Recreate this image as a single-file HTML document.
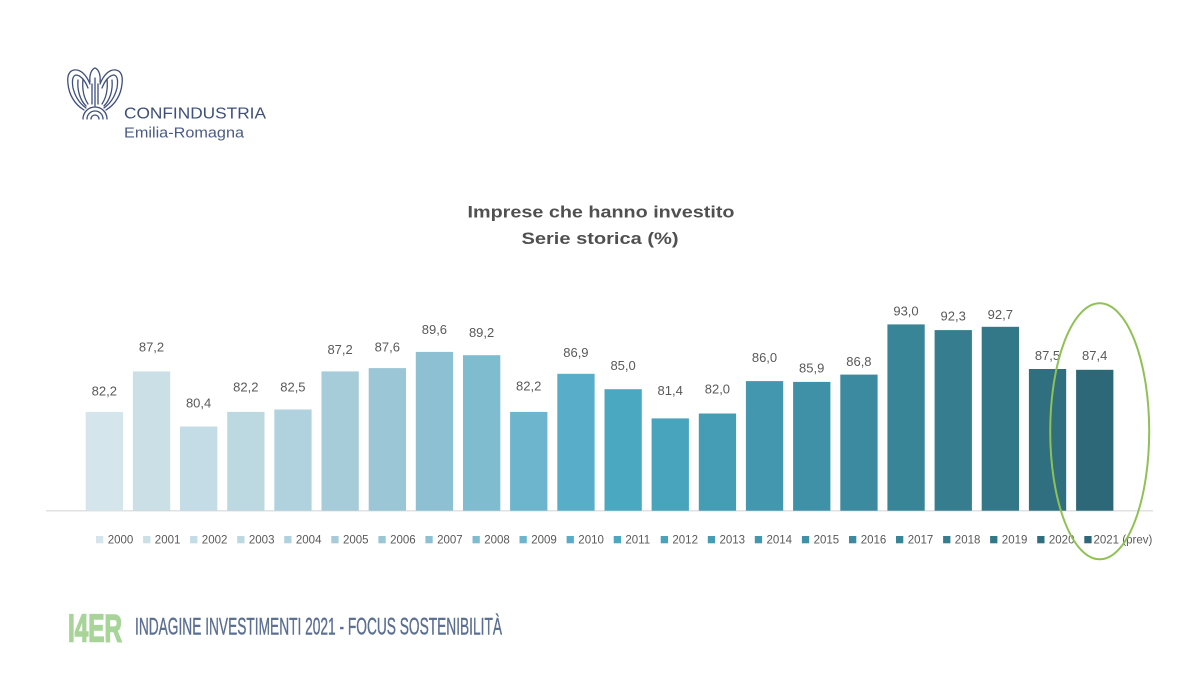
<!DOCTYPE html>
<html><head><meta charset="utf-8"><style>
html,body{margin:0;padding:0;background:#fff;}
svg{display:block;}
</style></head><body>
<svg width="1200" height="675" viewBox="0 0 1200 675" xmlns="http://www.w3.org/2000/svg" font-family="'Liberation Sans', sans-serif">
<rect width="1200" height="675" fill="#fff"/>
<!-- Logo eagle -->
<g fill="none" stroke="#3e4f7c" stroke-width="1.3" stroke-linecap="round">
  <path d="M90,82 C89,74 92,69 95,68 C98,69 101,74 100,82"/>
  <path d="M92,84 L92,104 M98,84 L98,104 M95,78 L95,106"/>
  <path d="M90,84 C86,74 80,69 74,70 C69,71 67,76 68,84 C69,94 74,104 84,110"/>
  <path d="M88,88 C85,80 80,75 76,75 C72,76 72,82 73,88 C75,96 79,103 86,108"/>
  <path d="M78,80 C77,90 80,100 86,106"/>
  <path d="M83,79 C82,89 84,98 88,104"/>
  <path d="M100,84 C104,74 110,69 116,70 C121,71 123,76 122,84 C121,94 116,104 106,110"/>
  <path d="M102,88 C105,80 110,75 114,75 C118,76 118,82 117,88 C115,96 111,103 104,108"/>
  <path d="M112,80 C113,90 110,100 104,106"/>
  <path d="M107,79 C108,89 106,98 102,104"/>
  <path d="M83,119 A12,12 0 0 1 107,119"/>
  <path d="M87,119 A8,8 0 0 1 103,119"/>
  <path d="M91,119 A4,4 0 0 1 99,119"/>
</g>
<text x="124" y="118.5" font-size="16" fill="#3e4f7c" textLength="142" lengthAdjust="spacingAndGlyphs">CONFINDUSTRIA</text>
<text x="124" y="137.5" font-size="15" fill="#4a5b84" textLength="120" lengthAdjust="spacingAndGlyphs">Emilia-Romagna</text>

<!-- Title -->
<text x="601" y="217.3" font-size="16.5" font-weight="bold" fill="#505050" text-anchor="middle" textLength="267" lengthAdjust="spacingAndGlyphs">Imprese che hanno investito</text>
<text x="600" y="244" font-size="16.5" font-weight="bold" fill="#505050" text-anchor="middle" textLength="157" lengthAdjust="spacingAndGlyphs">Serie storica (%)</text>

<!-- Axis -->
<line x1="46" y1="510.8" x2="1153" y2="510.8" stroke="#d9d9d9" stroke-width="1.2"/>

<!-- Bars -->
<g>
<rect x="85.7" y="411.9" width="37.3" height="98.8" fill="#d5e5ec"/>
<rect x="132.9" y="371.4" width="37.3" height="139.3" fill="#cbdfe7"/>
<rect x="180.0" y="426.5" width="37.3" height="84.2" fill="#c4dce5"/>
<rect x="227.2" y="411.9" width="37.3" height="98.8" fill="#bcd8e1"/>
<rect x="274.3" y="409.5" width="37.3" height="101.2" fill="#b0d2de"/>
<rect x="321.5" y="371.4" width="37.3" height="139.3" fill="#a6cbd9"/>
<rect x="368.7" y="368.1" width="37.3" height="142.6" fill="#9bc6d6"/>
<rect x="415.8" y="351.9" width="37.3" height="158.8" fill="#8dc0d2"/>
<rect x="463.0" y="355.2" width="37.3" height="155.5" fill="#7fbccf"/>
<rect x="510.1" y="411.9" width="37.3" height="98.8" fill="#6db5cc"/>
<rect x="557.3" y="373.8" width="37.3" height="136.9" fill="#58aec8"/>
<rect x="604.5" y="389.2" width="37.3" height="121.5" fill="#4aa8c0"/>
<rect x="651.6" y="418.4" width="37.3" height="92.3" fill="#48a3bc"/>
<rect x="698.8" y="413.5" width="37.3" height="97.2" fill="#459db5"/>
<rect x="745.9" y="381.1" width="37.3" height="129.6" fill="#4397ae"/>
<rect x="793.1" y="381.9" width="37.3" height="128.8" fill="#3f91a8"/>
<rect x="840.3" y="374.6" width="37.3" height="136.1" fill="#3c8aa0"/>
<rect x="887.4" y="324.4" width="37.3" height="186.3" fill="#398598"/>
<rect x="934.6" y="330.1" width="37.3" height="180.6" fill="#357d8f"/>
<rect x="981.7" y="326.8" width="37.3" height="183.9" fill="#337889"/>
<rect x="1028.9" y="369.0" width="37.3" height="141.7" fill="#2f6f80"/>
<rect x="1076.1" y="369.8" width="37.3" height="140.9" fill="#2c6878"/>
</g>

<!-- Value labels -->
<g font-size="13" fill="#595959" text-anchor="middle">
<text x="104.3" y="395.5">82,2</text>
<text x="151.5" y="351.5">87,2</text>
<text x="198.6" y="407.5">80,4</text>
<text x="245.8" y="391.5">82,2</text>
<text x="292.9" y="391.5">82,5</text>
<text x="340.1" y="353.8">87,2</text>
<text x="387.3" y="351.5">87,6</text>
<text x="434.4" y="333.8">89,6</text>
<text x="481.6" y="337.1">89,2</text>
<text x="528.7" y="390.5">82,2</text>
<text x="575.9" y="357.1">86,9</text>
<text x="623.1" y="369.8">85,0</text>
<text x="670.2" y="394.8">81,4</text>
<text x="717.4" y="393.5">82,0</text>
<text x="764.5" y="362.1">86,0</text>
<text x="811.7" y="372.5">85,9</text>
<text x="858.9" y="365.8">86,8</text>
<text x="906.0" y="315.5">93,0</text>
<text x="953.2" y="320.5">92,3</text>
<text x="1000.3" y="318.8">92,7</text>
<text x="1047.5" y="359.8">87,5</text>
<text x="1094.7" y="360.1">87,4</text>
</g>

<!-- Legend -->
<g font-size="11.5" fill="#595959">
<rect x="96.0" y="536" width="7.3" height="7.3" fill="#d5e5ec"/><text x="107.7" y="543.6">2000</text>
<rect x="143.1" y="536" width="7.3" height="7.3" fill="#cbdfe7"/><text x="154.8" y="543.6">2001</text>
<rect x="190.1" y="536" width="7.3" height="7.3" fill="#c4dce5"/><text x="201.8" y="543.6">2002</text>
<rect x="237.2" y="536" width="7.3" height="7.3" fill="#bcd8e1"/><text x="248.9" y="543.6">2003</text>
<rect x="284.2" y="536" width="7.3" height="7.3" fill="#b0d2de"/><text x="295.9" y="543.6">2004</text>
<rect x="331.3" y="536" width="7.3" height="7.3" fill="#a6cbd9"/><text x="343.0" y="543.6">2005</text>
<rect x="378.4" y="536" width="7.3" height="7.3" fill="#9bc6d6"/><text x="390.1" y="543.6">2006</text>
<rect x="425.4" y="536" width="7.3" height="7.3" fill="#8dc0d2"/><text x="437.1" y="543.6">2007</text>
<rect x="472.5" y="536" width="7.3" height="7.3" fill="#7fbccf"/><text x="484.2" y="543.6">2008</text>
<rect x="519.5" y="536" width="7.3" height="7.3" fill="#6db5cc"/><text x="531.2" y="543.6">2009</text>
<rect x="566.6" y="536" width="7.3" height="7.3" fill="#58aec8"/><text x="578.3" y="543.6">2010</text>
<rect x="613.7" y="536" width="7.3" height="7.3" fill="#4aa8c0"/><text x="625.4" y="543.6">2011</text>
<rect x="660.7" y="536" width="7.3" height="7.3" fill="#48a3bc"/><text x="672.4" y="543.6">2012</text>
<rect x="707.8" y="536" width="7.3" height="7.3" fill="#459db5"/><text x="719.5" y="543.6">2013</text>
<rect x="754.8" y="536" width="7.3" height="7.3" fill="#4397ae"/><text x="766.5" y="543.6">2014</text>
<rect x="801.9" y="536" width="7.3" height="7.3" fill="#3f91a8"/><text x="813.6" y="543.6">2015</text>
<rect x="849.0" y="536" width="7.3" height="7.3" fill="#3c8aa0"/><text x="860.7" y="543.6">2016</text>
<rect x="896.0" y="536" width="7.3" height="7.3" fill="#398598"/><text x="907.7" y="543.6">2017</text>
<rect x="943.1" y="536" width="7.3" height="7.3" fill="#357d8f"/><text x="954.8" y="543.6">2018</text>
<rect x="990.1" y="536" width="7.3" height="7.3" fill="#337889"/><text x="1001.8" y="543.6">2019</text>
<rect x="1037.2" y="536" width="7.3" height="7.3" fill="#2f6f80"/><text x="1048.9" y="543.6">2020</text>
<rect x="1084.3" y="536" width="7.3" height="7.3" fill="#2c6878"/><text x="1093.5" y="543.6">2021 (prev)</text>
</g>

<!-- Green ellipse -->
<ellipse cx="1099.7" cy="431.3" rx="49.5" ry="128" fill="none" stroke="#8fc154" stroke-width="2"/>

<!-- Footer -->
<text x="68" y="641.5" font-size="39" font-weight="bold" fill="#a8d49a" stroke="#a8d49a" stroke-width="1.6" textLength="54" lengthAdjust="spacingAndGlyphs">I4ER</text>
<text x="135" y="634.3" font-size="24.5" fill="#5b6f92" stroke="#5b6f92" stroke-width="0.4" textLength="367" lengthAdjust="spacingAndGlyphs">INDAGINE INVESTIMENTI 2021 - FOCUS SOSTENIBILITÀ</text>
</svg>
</body></html>
